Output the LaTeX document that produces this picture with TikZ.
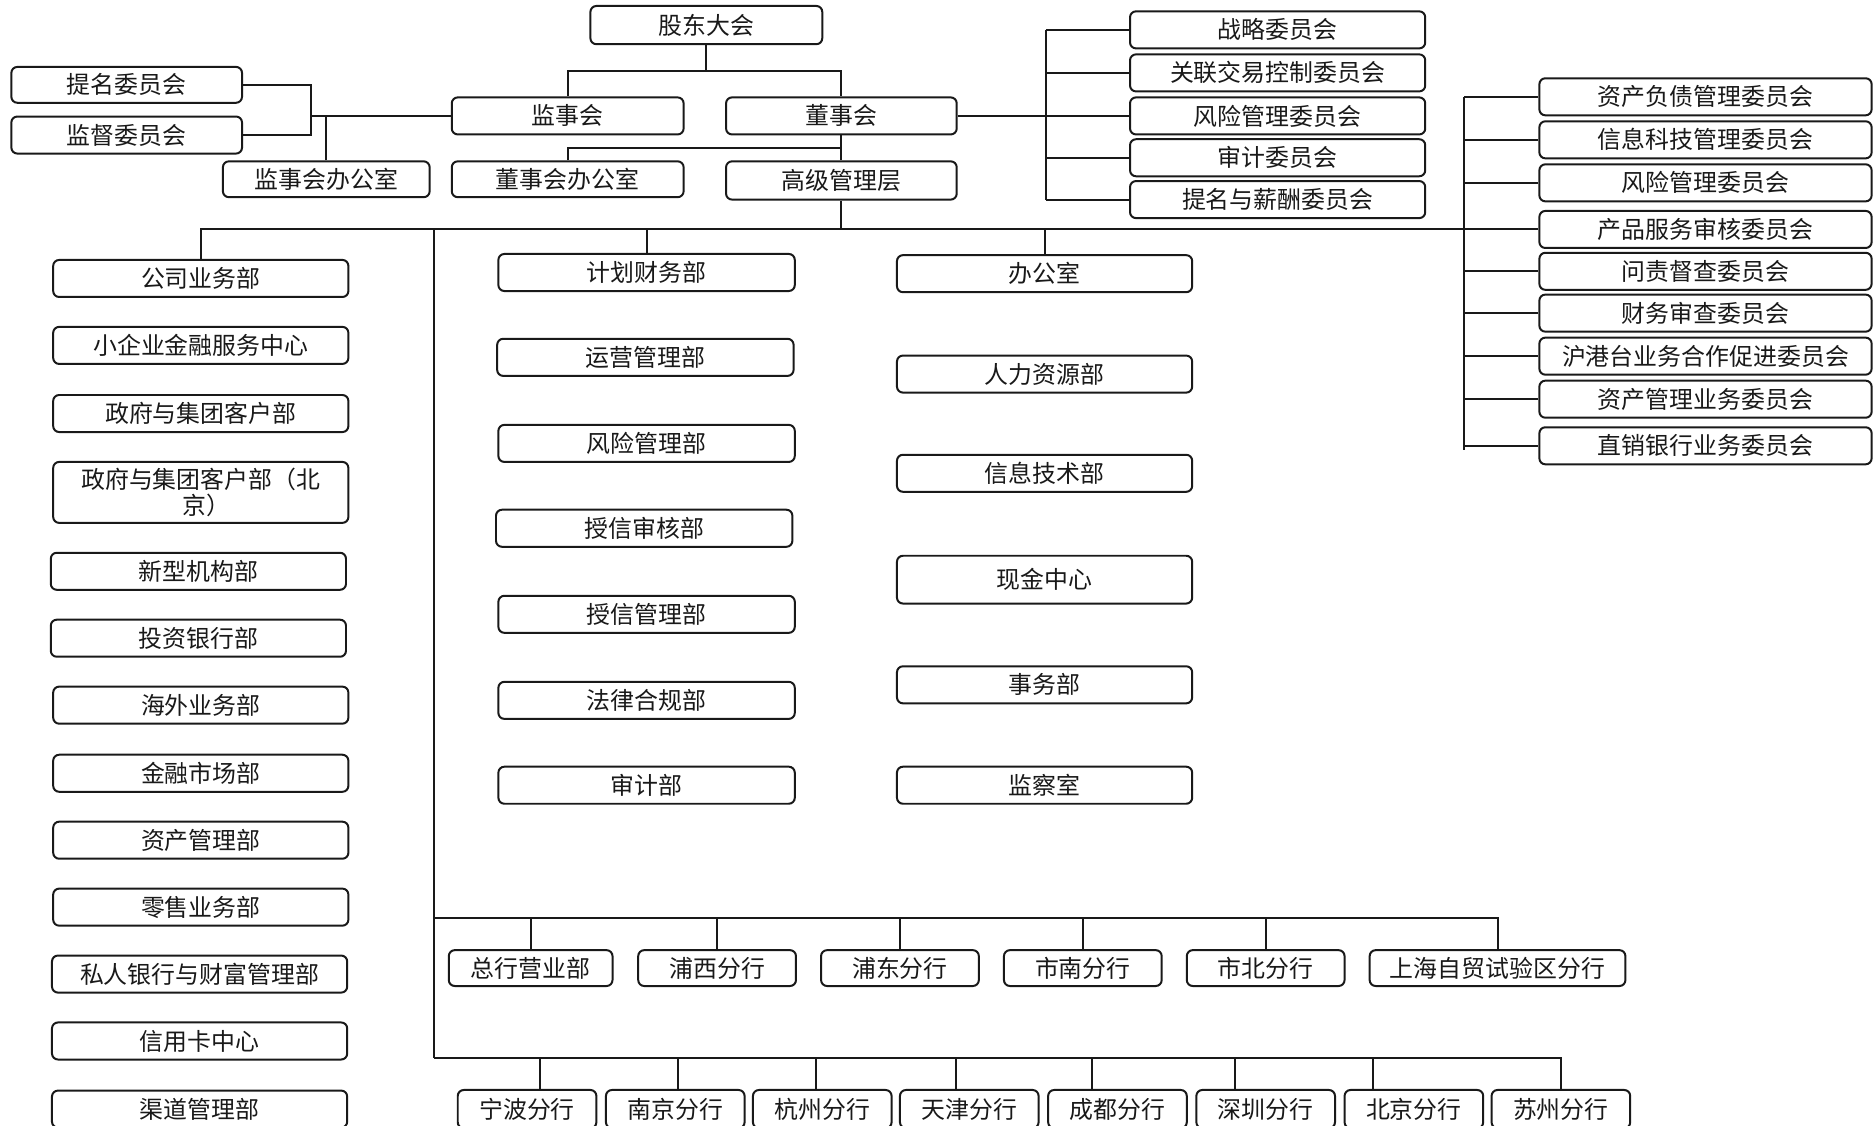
\documentclass[tikz,border=0pt]{standalone}
\usepackage{fontspec}
\setmainfont{Noto Sans CJK SC}
\definecolor{ink}{RGB}{25,25,25}

\begin{document}
\begin{tikzpicture}[x=0.6pt, y=-0.6pt,
    box/.style={draw=ink, fill=white, rounded corners=3pt, line width=1pt,
      inner sep=0pt, minimum height=18.6pt, text=ink,
      font=\fontsize{12}{13.5}\selectfont},
    w/.style={minimum width=#1*0.6pt},
    h/.style={minimum height=#1*0.6pt},
    wire/.style={draw=ink, line width=1pt}]

  \useasboundingbox (0,0) rectangle (1568,942);

  % ---- shareholders, supervisors, board ---------------------------------------
  \node[box, w=194, h=32] (gd) at (591,21) {股东大会};
  \node[box, w=194] (js) at (475,97) {监事会};
  \node[box, w=193] (ds) at (704,97) {董事会};
  \node[box, w=193, h=30] (tm) at (106,71) {提名委员会};
  \node[box, w=193] (jd) at (106,113) {监督委员会};
  \node[box, w=173, h=30] (jsb) at (273,150) {监事会办公室};
  \node[box, w=194, h=30] (dsb) at (475,150) {董事会办公室};
  \node[box, w=193, h=32] (gg) at (704,151) {高级管理层};

  % ---- board committees ------------------------------------------------------
  \foreach \i/\y/\t in {1/25/战略委员会, 2/61/关联交易控制委员会, 3/97/风险管理委员会,
                        4/132/审计委员会, 5/167/提名与薪酬委员会} {
    \node[box, w=247] (c\i) at (1069,\y) {\t};
  }

  % ---- management committees -------------------------------------------------
  \foreach \i/\y/\t in {1/81/资产负债管理委员会, 2/117/信息科技管理委员会, 3/153/风险管理委员会,
                        4/192/产品服务审核委员会, 5/227/问责督查委员会, 6/262/财务审查委员会,
                        7/298/沪港台业务合作促进委员会, 8/334/资产管理业务委员会,
                        9/373/直销银行业务委员会} {
    \node[box, w=278] (s\i) at (1427,\y) {\t};
  }

  % ---- departments, three columns --------------------------------------------
  \foreach \i/\x/\y/\t in {1/168/233/公司业务部, 2/168/289/小企业金融服务中心, 3/168/346/政府与集团客户部,
                           5/166/478/新型机构部, 6/166/534/投资银行部, 7/168/590/海外业务部,
                           8/168/647/金融市场部, 9/168/703/资产管理部, 10/168/759/零售业务部,
                           11/167/815/私人银行与财富管理部, 12/167/871/信用卡中心, 13/167/928/渠道管理部} {
    \node[box, w=247] (l\i) at (\x,\y) {\t};
  }
  \node[box, w=247, h=51, align=center] (l4) at (168,412) {政府与集团客户部（北\\\hspace{0.5em}京）};

  \foreach \i/\x/\y/\t in {1/541/228/计划财务部, 2/540/299/运营管理部, 3/541/371/风险管理部,
                           4/539/442/授信审核部, 5/541/514/授信管理部, 6/541/586/法律合规部,
                           7/541/657/审计部} {
    \node[box, w=248] (m\i) at (\x,\y) {\t};
  }

  \foreach \i/\y/\t in {1/229/办公室, 2/313/人力资源部, 3/396/信息技术部, 5/573/事务部, 6/657/监察室} {
    \node[box, w=247] (r\i) at (874,\y) {\t};
  }
  \node[box, w=247, h=40] (r4) at (874,485) {现金中心};

  % ---- branches ---------------------------------------------------------------
  \foreach \i/\x/\w/\t in {1/444/137/总行营业部, 2/600/132/浦西分行, 3/753/132/浦东分行,
                           4/906/132/市南分行, 5/1059/132/市北分行, 6/1253/214/上海自贸试验区分行} {
    \node[box, w=\w, h=30] (h\i) at (\x,810) {\t};
  }
  \foreach \i/\x/\t in {1/441/宁波分行, 2/565/南京分行, 3/688/杭州分行, 4/811/天津分行,
                        5/935/成都分行, 6/1059/深圳分行, 7/1183/北京分行, 8/1306/苏州分行} {
    \node[box, w=116, h=32] (f\i) at (\x,928) {\t};
  }

  % ---- connectors -------------------------------------------------------------
  \coordinate (top) at (591,59);
  \draw[wire] (gd.south) -- (top);
  \draw[wire] (js.north) |- (top) -| (ds.north);

  \coordinate (jsL) at (260,97);
  \draw[wire] (js.west) -- (jsL);
  \draw[wire] (tm.east) -| (jsL) |- (jd.east);
  \draw[wire] (jsb.north) -- (jsb.north |- js.west);

  \coordinate (dsM) at (704,124);
  \draw[wire] (ds.south) -- (gg.north);
  \draw[wire] (dsb.north) |- (dsM);

  \coordinate (bc) at (875,97);
  \draw[wire] (ds.east) -- (bc);
  \draw[wire] (c1.west -| bc) -- (c5.west -| bc);
  \foreach \i in {1,...,5} { \draw[wire] (c\i.west -| bc) -- (c\i.west); }

  \coordinate (sc) at (1225,192);
  \draw[wire] (s1.west -| sc) -- ([yshift=-2pt]s9.west -| sc);
  \foreach \i in {1,2,3,5,6,7,8,9} { \draw[wire] (s\i.west -| sc) -- (s\i.west); }

  % main bus under senior management
  \coordinate (bus) at (704,192);
  \draw[wire] (gg.south) -- (bus);
  \draw[wire] (l1.north) |- (s4.west);
  \draw[wire] (m1.north) -- (m1.north |- bus);
  \draw[wire] (r1.north) -- (r1.north |- bus);

  % trunk down to the branches
  \coordinate (bA) at (363,768);
  \coordinate (bB) at (363,885);
  \draw[wire] (bA |- bus) -- (bB);
  \draw[wire] (bA) -| (h6.north);
  \foreach \i in {1,...,5} { \draw[wire] (h\i.north) -- (h\i.north |- bA); }
  \draw[wire] (bB) -| (f8.north);
  \foreach \i/\x in {1/452, 2/567, 3/683, 4/800, 5/914, 6/1033, 7/1149} {
    \draw[wire] (bB -| \x,0) -- (\x,0 |- f\i.north);
  }
\end{tikzpicture}
\end{document}
